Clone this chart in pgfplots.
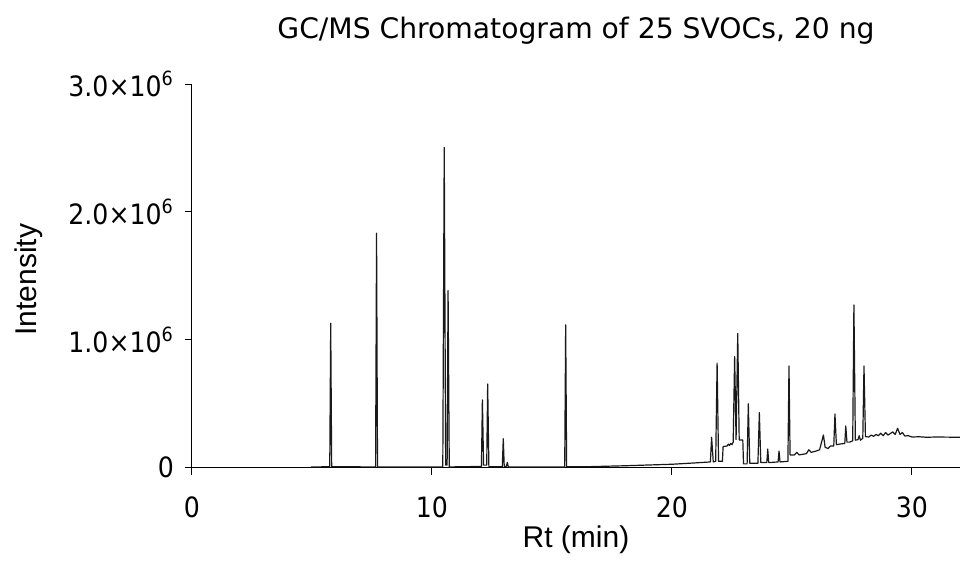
\documentclass[border=0pt]{standalone}
\usepackage{fontspec}
\setmainfont{DejaVu Sans}
\newfontfamily\tickfont[FakeStretch=0.9]{DejaVu Sans}
\newfontfamily\arialfont{Liberation Sans}
\usepackage{pgfplots}
\pgfplotsset{compat=1.18}
\begin{document}
\begin{tikzpicture}
\begin{axis}[
  at={(0,0)}, anchor=south west,
  scale only axis, width=384pt, height=191.85pt,
  xmin=0, xmax=32, ymin=0, ymax=3,
  axis lines*=left,
  axis line style={black, line width=0.5pt},
  tick align=outside, major tick length=3.5pt,
  tick style={black, line width=0.5pt},
  xtick={0,10,20,30}, xticklabels={0,10,20,30},
  ytick={0,1,2,3},
  yticklabels={0,{1.0×10\textsuperscript{6}\hspace{3.5pt}},{2.0×10\textsuperscript{6}\hspace{3.5pt}},{3.0×10\textsuperscript{6}\hspace{3.5pt}}},
  tick label style={font=\tickfont\fontsize{14}{16}\selectfont},
  xticklabel style={yshift=-7.5pt},
  yticklabel style={xshift=-2pt},
  xlabel={Rt (min)}, ylabel={Intensity},
  xlabel style={font=\arialfont\fontsize{15}{17}\selectfont, at={(axis description cs:0.5,0)}, anchor=base, yshift=-40pt},
  ylabel style={font=\arialfont\fontsize{15}{17}\selectfont, at={(axis description cs:-0.2031,0.49)}, anchor=base},
  title={GC/MS Chromatogram of 25 SVOCs, 20 ng},
  title style={font=\fontsize{14.1}{17}\selectfont, at={(axis description cs:0.5,1)}, anchor=base, yshift=17pt},
  clip=false,
]
\addplot[black!90, line width=0.6pt, line join=round] coordinates {
(4.95,0.005) (5.74,0.008) (5.78,1.13) (5.82,0.008)
(7.65,0.006) (7.69,1.834) (7.73,0.006)
(10.45,0.006) (10.51,2.504) (10.57,0.02) (10.63,0.02) (10.67,1.385) (10.72,0.006)
(12.06,0.01) (12.10,0.53) (12.15,0.02) (12.28,0.02) (12.32,0.655) (12.37,0.008)
(12.93,0.008) (12.97,0.227) (13.01,0.01) (13.10,0.01) (13.14,0.042) (13.18,0.006)
(15.53,0.006) (15.57,1.117) (15.61,0.008)
(16.5,0.008) (18,0.015) (19,0.021) (20,0.027) (21,0.038) (21.6,0.045)
(21.65,0.238) (21.72,0.045) (21.82,0.05) (21.88,0.817) (21.94,0.05) (22.1,0.05)
(22.13,0.165) (22.3,0.17) (22.35,0.185) (22.4,0.175) (22.45,0.19) (22.5,0.18) (22.55,0.2)
(22.61,0.869) (22.67,0.22) (22.74,1.05) (22.8,0.217) (22.95,0.217) (22.98,0.03)
(23.13,0.03) (23.18,0.5) (23.24,0.035) (23.58,0.035) (23.64,0.43) (23.7,0.04)
(23.95,0.04) (23.99,0.146) (24.03,0.04) (24.42,0.045) (24.46,0.13) (24.5,0.045)
(24.83,0.05) (24.875,0.796) (24.92,0.1)
(25.1,0.1) (25.2,0.12) (25.3,0.1) (25.6,0.11) (25.7,0.14) (25.8,0.12) (26.0,0.13)
(26.15,0.14) (26.31,0.256) (26.38,0.16) (26.5,0.15) (26.6,0.17) (26.74,0.17)
(26.79,0.42) (26.85,0.18) (27.0,0.185) (27.2,0.19) (27.24,0.326) (27.29,0.2)
(27.4,0.2) (27.53,0.21) (27.58,1.273) (27.64,0.215) (27.75,0.22) (27.8,0.25)
(27.85,0.215) (27.95,0.23) (28.0,0.796) (28.06,0.243) (28.2,0.24) (28.3,0.255)
(28.4,0.245) (28.5,0.26) (28.6,0.25) (28.7,0.27) (28.8,0.25) (28.9,0.275)
(29.0,0.255) (29.2,0.28) (29.3,0.26) (29.4,0.308) (29.5,0.26) (29.6,0.275)
(29.7,0.248) (29.85,0.25) (30.0,0.24) (30.3,0.242) (30.6,0.238) (31,0.24) (32,0.238)
};
\end{axis}
\pgfresetboundingbox
\path[use as bounding box] (-96pt,-48.15pt) rectangle (384pt,233.85pt);
\end{tikzpicture}
\end{document}
